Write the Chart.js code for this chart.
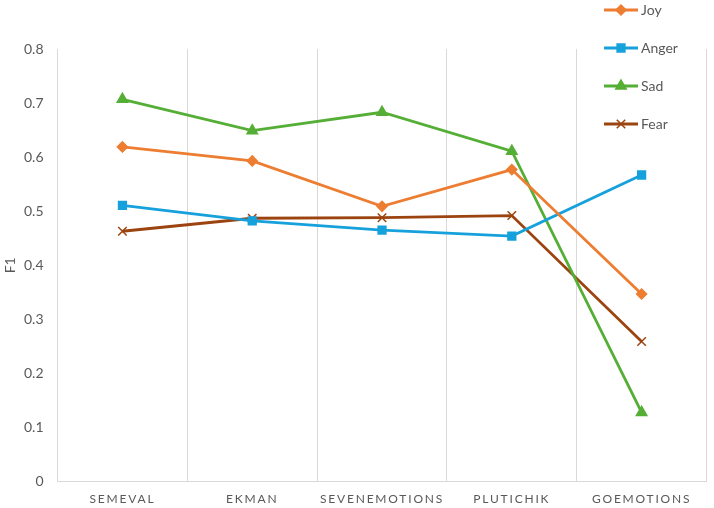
<!DOCTYPE html>
<html>
<head>
<meta charset="utf-8">
<script src="https://cdn.jsdelivr.net/npm/chart.js@4/dist/chart.umd.min.js"></script>
<style>
  html, body { margin: 0; padding: 0; background: #fff; }
  #wrap { width: 714px; height: 508px; position: relative; }
</style>
</head>
<body>
<div id="wrap"><canvas id="chart"></canvas></div>
<script>
const categories = ["SEMEVAL", "EKMAN", "SEVENEMOTIONS", "PLUTICHIK", "GOEMOTIONS"]
const joy = [0.619, 0.593, 0.509, 0.577, 0.347]
const anger = [0.511, 0.482, 0.465, 0.454, 0.567]
const sad = [0.707, 0.649, 0.683, 0.611, 0.128]
const fear = [0.463, 0.487, 0.488, 0.492, 0.259]
const yTitle = "F1"

const FONT = "Lato, 'Open Sans', sans-serif"
const TEXT = "#595959"
const GRID = "#d9d9d9"

function series(label, data, color, pointStyle, radius) {
  return {
    label, data,
    borderColor: color,
    backgroundColor: color,
    borderWidth: 2.8,
    pointStyle,
    pointRadius: radius,
    pointBorderWidth: 1.5,
    pointBorderColor: color,
    pointBackgroundColor: color,
    tension: 0
  }
}

const datasets = [
  series("Joy", joy, "#ED7D31", "rectRot", 5),
  series("Anger", anger, "#16A1DC", "rect", 5.5),
  series("Sad", sad, "#55AE35", "triangle", 6),
  series("Fear", fear, "#9C4410", "crossRot", 6)
]

// legend: vertical list of line + marker at the top right, plus the y title
const sideLegend = {
  id: "sideLegend",
  afterDraw(chart) {
    const ctx = chart.ctx
    ctx.save()
    chart.data.datasets.forEach((ds, i) => {
      const y = 10 + i * 38
      ctx.strokeStyle = ds.borderColor
      ctx.lineWidth = 2.8
      ctx.beginPath()
      ctx.moveTo(604, y)
      ctx.lineTo(638, y)
      ctx.stroke()
      ctx.fillStyle = ds.backgroundColor
      ctx.lineWidth = 1.5
      Chart.helpers.drawPoint(ctx, { pointStyle: ds.pointStyle, radius: ds.pointRadius, borderWidth: 1.5 }, 621, y)
      ctx.fillStyle = TEXT
      ctx.font = "14px " + FONT
      ctx.textAlign = "left"
      ctx.textBaseline = "middle"
      ctx.fillText(ds.label, 641, y)
    })
    const a = chart.chartArea
    ctx.translate(10, (a.top + a.bottom) / 2)
    ctx.rotate(-Math.PI / 2)
    ctx.textAlign = "center"
    ctx.fillText(yTitle, 0, 0)
    ctx.restore()
  }
}

// spaced out category labels
const spacedX = {
  id: "spacedX",
  beforeDraw(chart) {
    const s = chart.scales.x
    if (s._spaced) return
    const orig = s.drawLabels.bind(s)
    s.drawLabels = (area) => {
      chart.ctx.save()
      chart.ctx.letterSpacing = "1.8px"
      orig(area)
      chart.ctx.restore()
    }
    s._spaced = true
  }
}

new Chart(document.getElementById("chart"), {
  type: "line",
  data: { labels: categories, datasets },
  plugins: [sideLegend, spacedX],
  options: {
    responsive: true,
    maintainAspectRatio: false,
    animation: false,
    layout: { padding: { top: 49, right: 6, left: 10, bottom: -8 } },
    plugins: {
      legend: { display: false },
      tooltip: { enabled: false }
    },
    scales: {
      x: {
        offset: true,
        grid: { offset: true, color: GRID, lineWidth: 1, drawTicks: false },
        border: { color: GRID },
        ticks: { color: TEXT, font: { family: FONT, size: 12 }, padding: 10, maxRotation: 0 }
      },
      y: {
        min: 0,
        max: 0.8,
        ticks: { stepSize: 0.1, color: TEXT, font: { family: FONT, size: 14 }, padding: 14 },
        grid: { display: false, drawTicks: false },
        border: { color: GRID }
      }
    }
  }
})
</script>
</body>
</html>
